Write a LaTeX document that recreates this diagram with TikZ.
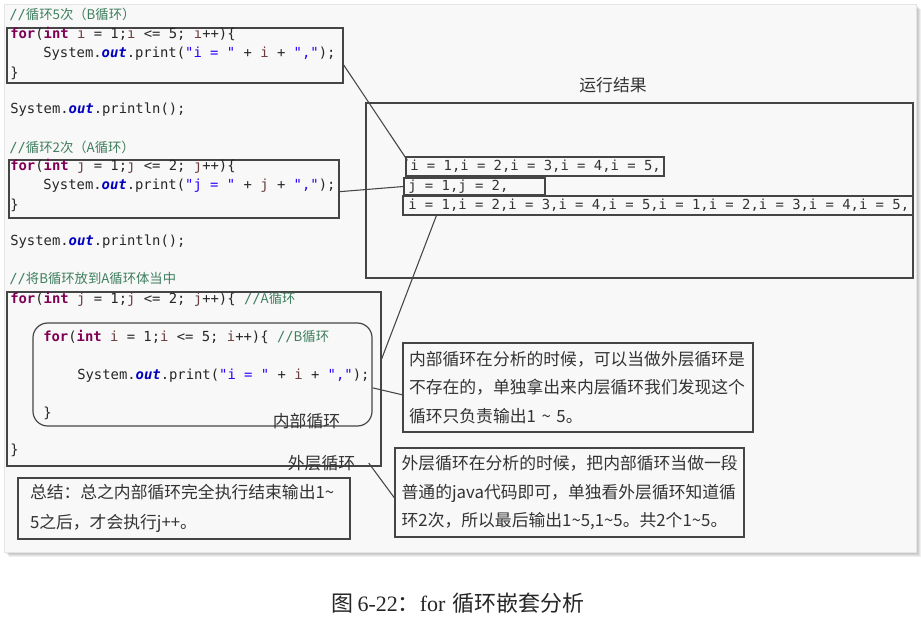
\documentclass[tikz,border=0pt]{standalone}
\usepackage{fontspec}
\setmonofont{DejaVu Sans Mono}
\newfontfamily\cjk{Noto Sans CJK SC}
\newfontfamily\capfont{Liberation Serif}
\usetikzlibrary{positioning}

\definecolor{kwcol}{HTML}{7F0055}
\definecolor{varcol}{HTML}{6A3E3E}
\definecolor{fldcol}{HTML}{0000C0}
\definecolor{strcol}{HTML}{2A00FF}
\definecolor{comcol}{HTML}{3F7F5F}
\definecolor{framecol}{HTML}{454545}
\definecolor{notecol}{HTML}{333333}
\definecolor{panelcol}{HTML}{F8F8F8}

% coloration java (style Eclipse)
\newcommand{\kw}[1]{\textcolor{kwcol}{\bfseries #1}}
\newcommand{\jv}[1]{\textcolor{varcol}{#1}}
\newcommand{\jout}{\textcolor{fldcol}{\bfseries\itshape out}}
\newcommand{\js}[1]{\textcolor{strcol}{#1}}
\newcommand{\jc}[1]{\textcolor{comcol}{//{\cjk\fontsize{10}{12}\selectfont #1}}}

\frenchspacing

\begin{document}
\begin{tikzpicture}[x=0.75pt, y=-0.75pt,
    codeln/.style={anchor=west, inner sep=0pt, font=\ttfamily\fontsize{10.4}{12}\selectfont, text=black!85},
    cbox/.style={rectangle, draw=framecol, line width=0.9pt, inner sep=0pt},
    note/.style={rectangle, draw=framecol, line width=0.9pt, align=left, minimum height=66.75pt, font=\cjk\fontsize{12.6}{21.4}\selectfont, text=notecol},
    tag/.style={font=\cjk\fontsize{12.6}{15}\selectfont, text=notecol, inner sep=1pt},
    link/.style={draw=framecol, line width=0.8pt}
]
\useasboundingbox (0,0) rectangle (921,619);
\fill[white] (0,0) rectangle (921,619);

% Fond de la capture avec ombre
\foreach \s in {1,...,5}
  \fill[black, opacity=0.06] (4+\s,4+\s) rectangle (916+\s,552+\s);
\fill[panelcol] (4,4) rectangle (916,552);
\draw[black!10, line width=0.4pt] (4,4) rectangle (916,552);

% Boucle B
\node[codeln] (cmtb) at (9,14) {\jc{循环5次（B循环）}};
\node[cbox, minimum width=252pt, minimum height=41.25pt] (codeb) at (175,55.5) {};
\node[codeln] (bl1) at (10,34) {\kw{for}(\kw{int} \jv{i} = 1;\jv{i} <= 5; \jv{i}++)\{};
\node[codeln] (bl2) at (43,54) {System.\jout.print(\js{"i = "} + \jv{i} + \js{","});};
\node[codeln] (bl3) at (10,73) {\}};
\node[codeln] (pln1) at (10,110) {System.\jout.println();};

% Boucle A
\node[codeln] (cmta) at (9,147) {\jc{循环2次（A循环）}};
\node[cbox, minimum width=247.5pt, minimum height=43.5pt] (codea) at (174,189) {};
\node[codeln] (al1) at (10,166) {\kw{for}(\kw{int} \jv{j} = 1;\jv{j} <= 2; \jv{j}++)\{};
\node[codeln] (al2) at (43,186) {System.\jout.print(\js{"j = "} + \jv{j} + \js{","});};
\node[codeln] (al3) at (10,205) {\}};
\node[codeln] (pln2) at (10,242) {System.\jout.println();};

% Boucles imbriquees
\node[codeln] (cmtn) at (9,279) {\jc{将B循环放到A循环体当中}};
\node[cbox, minimum width=280.5pt, minimum height=130.5pt] (outer) at (194,379) {};
\node[cbox, rounded corners=11pt, minimum width=254.25pt, minimum height=77.25pt] (inner) at (202.5,374.5) {};
\node[codeln] (nl1) at (10,299) {\kw{for}(\kw{int} \jv{j} = 1;\jv{j} <= 2; \jv{j}++)\{ \jc{A循环}};
\node[codeln] (nl2) at (43,337) {\kw{for}(\kw{int} \jv{i} = 1;\jv{i} <= 5; \jv{i}++)\{ \jc{B循环}};
\node[codeln] (nl3) at (77,376) {System.\jout.print(\js{"i = "} + \jv{i} + \js{","});};
\node[codeln] (nl4) at (43,413) {\}};
\node[codeln] (nl5) at (10,450) {\}};
\node[tag] (tagin) at (306.5,421) {内部循环};
\node[tag] (tagout) at (321.5,463) {外层循环};

% Resume
\node[note, text width=231pt, inner xsep=9pt, minimum height=45.75pt, font=\cjk\fontsize{12.6}{22.5}\selectfont] (sum) at (184,508.5)
  {总结：总之内部循环完全执行结束输出1\textasciitilde\\5之后，才会执行j++。};

% Resultat de l'execution
\node[tag] (restitle) at (613,85) {运行结果};
\node[cbox, minimum width=410.25pt, minimum height=131.25pt] (resbox) at (639.5,190.5) {};
\node[cbox, minimum width=193.5pt, minimum height=14.25pt] (res1) at (535,166.5) {};
\node[cbox, minimum width=105.75pt, minimum height=12.75pt] (res2) at (474.5,186.5) {};
\node[cbox, minimum width=382.5pt, minimum height=14.25pt] (res3) at (658,205.5) {};
\node[codeln, text=notecol] (rt1) at (410,166.5) {i = 1,i = 2,i = 3,i = 4,i = 5,};
\node[codeln, text=notecol] (rt2) at (408,186.5) {j = 1,j = 2,};
\node[codeln, text=notecol] (rt3) at (408,205.5) {i = 1,i = 2,i = 3,i = 4,i = 5,i = 1,i = 2,i = 3,i = 4,i = 5,};

% Explications
\node[note, text width=253.5pt, inner xsep=4.5pt] (note1) at (578,387.5)
  {内部循环在分析的时候，可以当做外层循环是\\不存在的，单独拿出来内层循环我们发现这个\\循环只负责输出1 \textasciitilde{} 5。};
\node[note, text width=251.75pt, inner xsep=5pt] (note2) at (569.5,492.5)
  {外层循环在分析的时候，把内部循环当做一段\\普通的java代码即可，单独看外层循环知道循\\环2次，所以最后输出1\textasciitilde5,1\textasciitilde5。共2个1\textasciitilde5。};

% Connexions
\draw[link] ([yshift=-7pt]codeb.east) -- ([xshift=1.5pt,yshift=-3pt]res1.north west);
\draw[link] ([yshift=-2pt]codea.east) -- (res2.west);
\draw[link] ([xshift=25.5pt]res3.south west) -- ([yshift=15pt]outer.east);
\draw[link] ([yshift=-10pt]inner.east) -- ([yshift=-5.5pt]note1.west);
\draw[link] ([xshift=9pt]tagout.east) -- ([yshift=-4pt]note2.west);

% Legende
\node[font=\fontsize{16.5}{20}\selectfont, text=black!85] (cap) at (458,603)
  {{\cjk 图}\,{\capfont 6-22}{\cjk ：}{\capfont for} {\cjk 循环嵌套分析}};
\end{tikzpicture}
\end{document}
